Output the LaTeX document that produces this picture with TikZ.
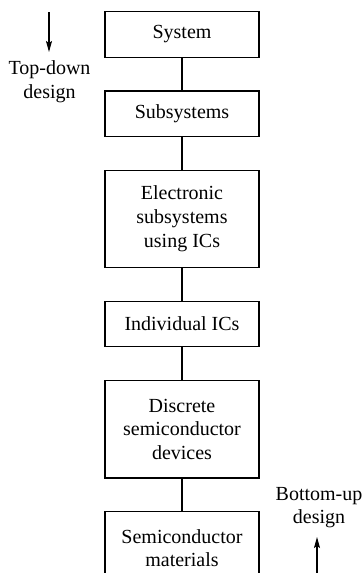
\documentclass[tikz,border=0pt]{standalone}
\usepackage{fontspec}
\setmainfont{Liberation Serif}
\usetikzlibrary{arrows.meta,positioning}

\begin{document}
\begin{tikzpicture}[
  x=1pt, y=1pt,
  >={Stealth[length=5.5pt, width=3pt, inset=1pt]},
  every node/.style={font=\fontsize{10}{11.85}\selectfont},
  level/.style={draw, line width=0.6pt, minimum width=77pt,
                minimum height=22.75pt, align=center, inner sep=2pt},
  tall/.style={minimum height=48.75pt},
  link/.style={line width=1.3pt},
  dir/.style={->, line width=0.55pt},
  node distance=16.25pt,
]
\useasboundingbox (0,0) rectangle (181.5,-286.5);
\clip (0,0) rectangle (181.5,-286.5);

% levels of the hierarchy
\node[level] (sys) at (91,-17.25) {System};
\node[level, below=of sys] (sub) {Subsystems};
\node[level, tall, below=of sub] (esub) {Electronic\\subsystems\\using ICs};
\node[level, below=of esub] (ics) {Individual ICs};
\node[level, tall, below=of ics] (disc) {Discrete\\semiconductor\\devices};
\node[level, minimum height=36.5pt, below=of disc] (mat) {Semiconductor\\materials};

\foreach \a/\b in {sys/sub, sub/esub, esub/ics, ics/disc, disc/mat}
  \draw[link] (\a) -- (\b);

% design directions
\node[align=center] (td) at (24.75,-40.75) {Top-down\\design};
\coordinate (tdstart) at (24.5,-6);
\coordinate (tdend) at (24.5,-26);
\draw[dir] (tdstart) -- (tdend);

\node[align=center] (bu) at (159.5,-253.75) {Bottom-up\\design};
\coordinate (bustart) at (158.5,-287);
\coordinate (buend) at (158.5,-268.5);
\draw[dir] (bustart) -- (buend);
\end{tikzpicture}
\end{document}
